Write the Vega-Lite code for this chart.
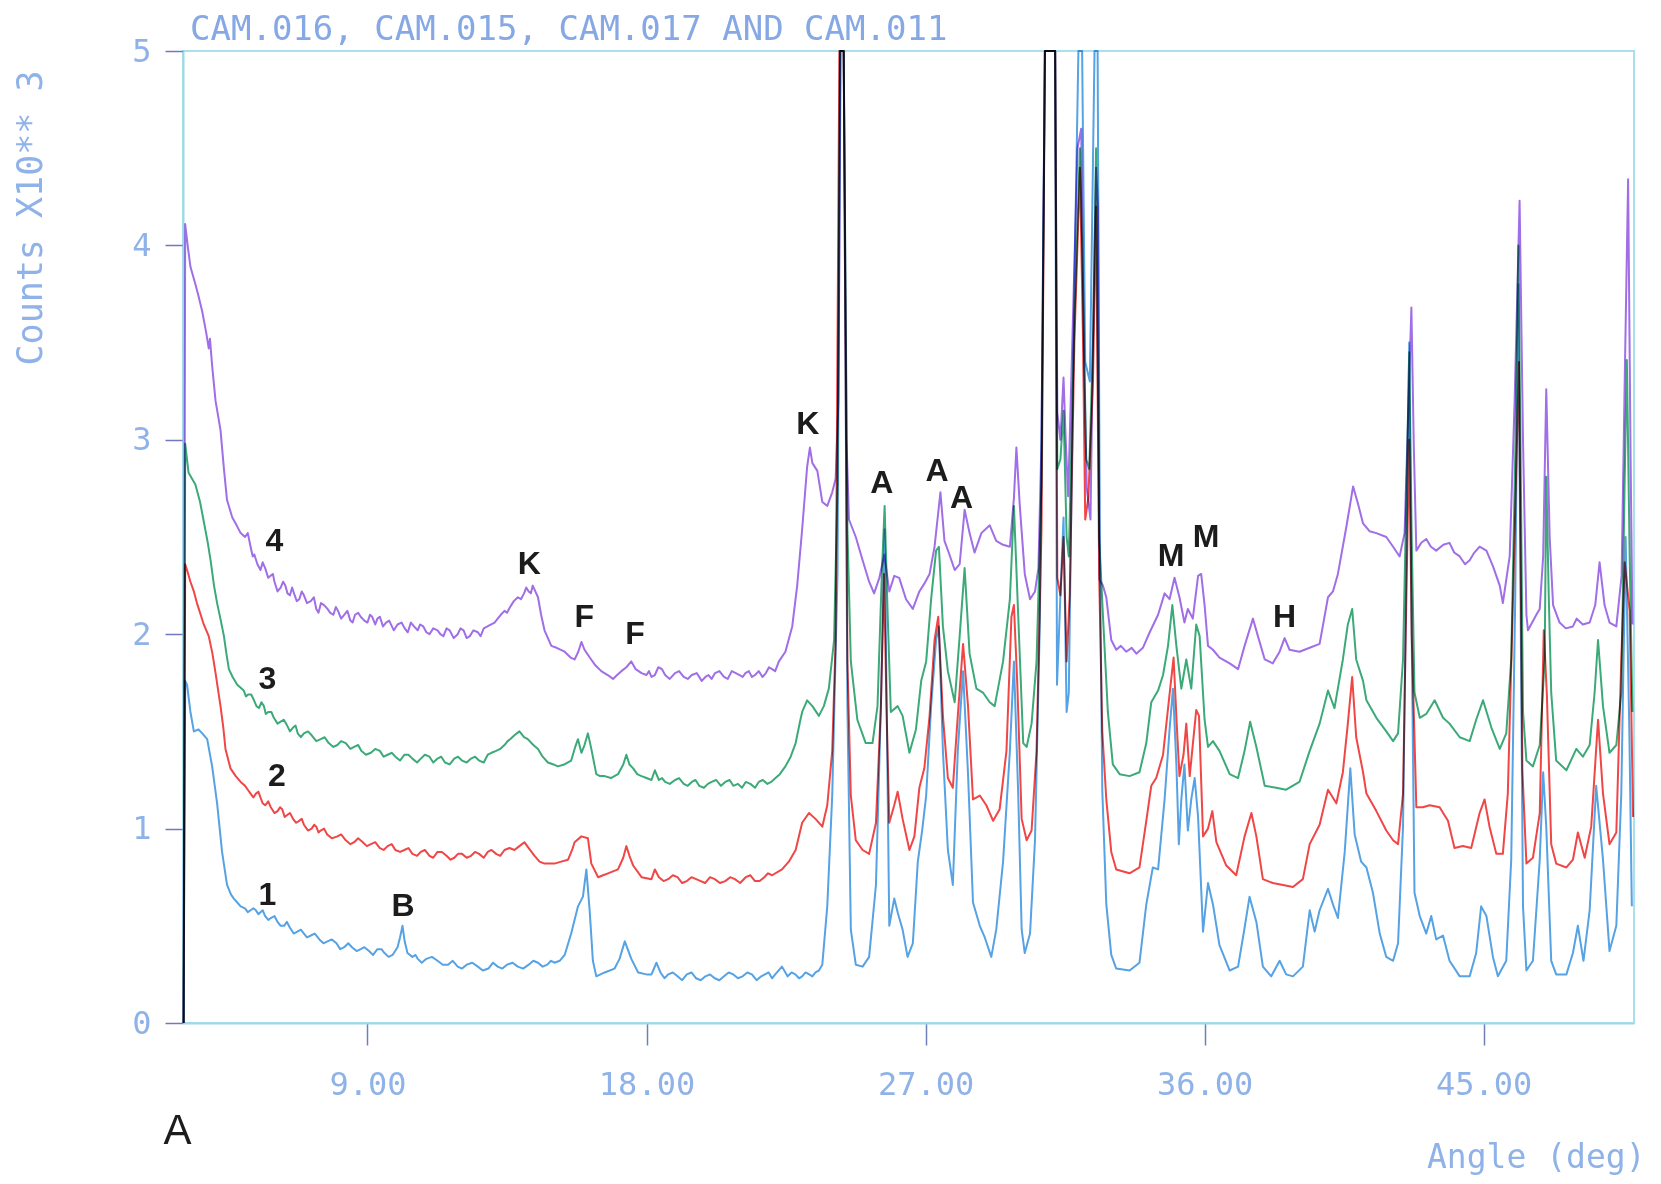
{
"$schema": "https://vega.github.io/schema/vega-lite/v6.json",
"width": 1451, "height": 972,
"autosize": "none",
"padding": {"left": 183, "top": 51, "right": 27, "bottom": 161},
"background": "white",
"title": {"text": "CAM.016, CAM.015, CAM.017 AND CAM.011", "anchor": "start", "frame": "group", "font": "DejaVu Sans Mono", "fontSize": 34, "fontWeight": "normal", "color": "#86a8e4", "offset": -12, "dx": 7},
"config": {"view": {"stroke": "#a9e0ec", "strokeWidth": 2}, "axis": {"grid": false}},
"datasets": {
"traces": [
{"scan":"4","angle":3.07,"counts":0},{"scan":"4","angle":3.12,"counts":4.11},{"scan":"4","angle":3.2,"counts":4.0},{"scan":"4","angle":3.29,"counts":3.89},{"scan":"4","angle":3.45,"counts":3.8},{"scan":"4","angle":3.55,"counts":3.74},{"scan":"4","angle":3.67,"counts":3.66},{"scan":"4","angle":3.8,"counts":3.55},{"scan":"4","angle":3.88,"counts":3.47},{"scan":"4","angle":3.92,"counts":3.52},{"scan":"4","angle":3.99,"counts":3.38},{"scan":"4","angle":4.1,"counts":3.2},{"scan":"4","angle":4.26,"counts":3.05},{"scan":"4","angle":4.37,"counts":2.85},{"scan":"4","angle":4.47,"counts":2.69},{"scan":"4","angle":4.64,"counts":2.6},{"scan":"4","angle":4.78,"counts":2.56},{"scan":"4","angle":4.91,"counts":2.52},{"scan":"4","angle":5.05,"counts":2.5},{"scan":"4","angle":5.23,"counts":2.45},{"scan":"4","angle":5.35,"counts":2.41},{"scan":"4","angle":5.45,"counts":2.36},{"scan":"4","angle":5.55,"counts":2.33},{"scan":"4","angle":5.7,"counts":2.34},{"scan":"4","angle":5.87,"counts":2.3},{"scan":"4","angle":6.0,"counts":2.27},{"scan":"4","angle":6.2,"counts":2.24},{"scan":"4","angle":6.35,"counts":2.25},{"scan":"4","angle":6.5,"counts":2.2},{"scan":"4","angle":6.63,"counts":2.21},{"scan":"4","angle":6.8,"counts":2.18},{"scan":"4","angle":6.95,"counts":2.2},{"scan":"4","angle":7.17,"counts":2.17},{"scan":"4","angle":7.35,"counts":2.13},{"scan":"4","angle":7.5,"counts":2.16},{"scan":"4","angle":7.71,"counts":2.13},{"scan":"4","angle":7.9,"counts":2.1},{"scan":"4","angle":8.05,"counts":2.12},{"scan":"4","angle":8.25,"counts":2.1},{"scan":"4","angle":8.45,"counts":2.07},{"scan":"4","angle":8.6,"counts":2.1},{"scan":"4","angle":8.78,"counts":2.09},{"scan":"4","angle":9.0,"counts":2.06},{"scan":"4","angle":9.15,"counts":2.09},{"scan":"4","angle":9.32,"counts":2.08},{"scan":"4","angle":9.5,"counts":2.04},{"scan":"4","angle":9.7,"counts":2.07},{"scan":"4","angle":9.97,"counts":2.05},{"scan":"4","angle":10.2,"counts":2.03},{"scan":"4","angle":10.4,"counts":2.06},{"scan":"4","angle":10.62,"counts":2.02},{"scan":"4","angle":10.8,"counts":2.04},{"scan":"4","angle":11.0,"counts":2.0},{"scan":"4","angle":11.26,"counts":2.02},{"scan":"4","angle":11.45,"counts":1.99},{"scan":"4","angle":11.65,"counts":2.02},{"scan":"4","angle":11.91,"counts":2.0},{"scan":"4","angle":12.1,"counts":2.02},{"scan":"4","angle":12.3,"counts":1.99},{"scan":"4","angle":12.56,"counts":2.01},{"scan":"4","angle":12.75,"counts":2.03},{"scan":"4","angle":12.99,"counts":2.05},{"scan":"4","angle":13.2,"counts":2.08},{"scan":"4","angle":13.42,"counts":2.12},{"scan":"4","angle":13.6,"counts":2.14},{"scan":"4","angle":13.85,"counts":2.19},{"scan":"4","angle":14.05,"counts":2.21},{"scan":"4","angle":14.2,"counts":2.22},{"scan":"4","angle":14.33,"counts":2.25},{"scan":"4","angle":14.5,"counts":2.19},{"scan":"4","angle":14.6,"counts":2.1},{"scan":"4","angle":14.71,"counts":2.02},{"scan":"4","angle":14.93,"counts":1.94},{"scan":"4","angle":15.1,"counts":1.93},{"scan":"4","angle":15.36,"counts":1.91},{"scan":"4","angle":15.55,"counts":1.88},{"scan":"4","angle":15.68,"counts":1.87},{"scan":"4","angle":15.8,"counts":1.91},{"scan":"4","angle":15.9,"counts":1.96},{"scan":"4","angle":16.0,"counts":1.92},{"scan":"4","angle":16.17,"counts":1.88},{"scan":"4","angle":16.35,"counts":1.84},{"scan":"4","angle":16.54,"counts":1.81},{"scan":"4","angle":16.75,"counts":1.79},{"scan":"4","angle":16.92,"counts":1.77},{"scan":"4","angle":17.05,"counts":1.79},{"scan":"4","angle":17.19,"counts":1.81},{"scan":"4","angle":17.35,"counts":1.83},{"scan":"4","angle":17.51,"counts":1.86},{"scan":"4","angle":17.65,"counts":1.82},{"scan":"4","angle":17.84,"counts":1.8},{"scan":"4","angle":18.0,"counts":1.79},{"scan":"4","angle":18.16,"counts":1.78},{"scan":"4","angle":18.38,"counts":1.83},{"scan":"4","angle":18.6,"counts":1.79},{"scan":"4","angle":18.92,"counts":1.8},{"scan":"4","angle":19.2,"counts":1.78},{"scan":"4","angle":19.46,"counts":1.79},{"scan":"4","angle":19.78,"counts":1.76},{"scan":"4","angle":20.0,"counts":1.79},{"scan":"4","angle":20.21,"counts":1.8},{"scan":"4","angle":20.5,"counts":1.78},{"scan":"4","angle":20.75,"counts":1.81},{"scan":"4","angle":21.0,"counts":1.79},{"scan":"4","angle":21.19,"counts":1.8},{"scan":"4","angle":21.4,"counts":1.78},{"scan":"4","angle":21.62,"counts":1.81},{"scan":"4","angle":21.85,"counts":1.8},{"scan":"4","angle":22.05,"counts":1.82},{"scan":"4","angle":22.27,"counts":1.86},{"scan":"4","angle":22.48,"counts":1.91},{"scan":"4","angle":22.7,"counts":2.04},{"scan":"4","angle":22.86,"counts":2.25},{"scan":"4","angle":23.02,"counts":2.54},{"scan":"4","angle":23.18,"counts":2.86},{"scan":"4","angle":23.27,"counts":2.96},{"scan":"4","angle":23.35,"counts":2.88},{"scan":"4","angle":23.51,"counts":2.84},{"scan":"4","angle":23.67,"counts":2.68},{"scan":"4","angle":23.83,"counts":2.66},{"scan":"4","angle":23.99,"counts":2.73},{"scan":"4","angle":24.1,"counts":2.8},{"scan":"4","angle":24.19,"counts":3.2},{"scan":"4","angle":24.26,"counts":5.0},{"scan":"4","angle":24.36,"counts":5.0},{"scan":"4","angle":24.45,"counts":3.0},{"scan":"4","angle":24.53,"counts":2.59},{"scan":"4","angle":24.75,"counts":2.5},{"scan":"4","angle":24.97,"counts":2.38},{"scan":"4","angle":25.18,"counts":2.27},{"scan":"4","angle":25.34,"counts":2.21},{"scan":"4","angle":25.51,"counts":2.29},{"scan":"4","angle":25.67,"counts":2.41},{"scan":"4","angle":25.83,"counts":2.22},{"scan":"4","angle":25.99,"counts":2.3},{"scan":"4","angle":26.15,"counts":2.29},{"scan":"4","angle":26.37,"counts":2.18},{"scan":"4","angle":26.59,"counts":2.13},{"scan":"4","angle":26.8,"counts":2.22},{"scan":"4","angle":26.96,"counts":2.26},{"scan":"4","angle":27.13,"counts":2.31},{"scan":"4","angle":27.29,"counts":2.45},{"scan":"4","angle":27.48,"counts":2.73},{"scan":"4","angle":27.61,"counts":2.48},{"scan":"4","angle":27.77,"counts":2.41},{"scan":"4","angle":27.94,"counts":2.33},{"scan":"4","angle":28.1,"counts":2.36},{"scan":"4","angle":28.26,"counts":2.64},{"scan":"4","angle":28.42,"counts":2.52},{"scan":"4","angle":28.58,"counts":2.42},{"scan":"4","angle":28.8,"counts":2.52},{"scan":"4","angle":29.07,"counts":2.56},{"scan":"4","angle":29.28,"counts":2.48},{"scan":"4","angle":29.5,"counts":2.46},{"scan":"4","angle":29.72,"counts":2.45},{"scan":"4","angle":29.85,"counts":2.7},{"scan":"4","angle":29.93,"counts":2.96},{"scan":"4","angle":30.04,"counts":2.66},{"scan":"4","angle":30.2,"counts":2.31},{"scan":"4","angle":30.37,"counts":2.18},{"scan":"4","angle":30.53,"counts":2.22},{"scan":"4","angle":30.64,"counts":2.34},{"scan":"4","angle":30.74,"counts":3.0},{"scan":"4","angle":30.85,"counts":5.0},{"scan":"4","angle":31.18,"counts":5.0},{"scan":"4","angle":31.25,"counts":3.14},{"scan":"4","angle":31.35,"counts":3.0},{"scan":"4","angle":31.45,"counts":3.32},{"scan":"4","angle":31.52,"counts":3.0},{"scan":"4","angle":31.6,"counts":2.71},{"scan":"4","angle":31.75,"counts":3.6},{"scan":"4","angle":31.9,"counts":4.5},{"scan":"4","angle":32.02,"counts":4.6},{"scan":"4","angle":32.1,"counts":3.5},{"scan":"4","angle":32.2,"counts":2.75},{"scan":"4","angle":32.32,"counts":2.59},{"scan":"4","angle":32.4,"counts":3.5},{"scan":"4","angle":32.5,"counts":4.4},{"scan":"4","angle":32.56,"counts":4.2},{"scan":"4","angle":32.61,"counts":2.28},{"scan":"4","angle":32.72,"counts":2.25},{"scan":"4","angle":32.83,"counts":2.19},{"scan":"4","angle":32.99,"counts":1.97},{"scan":"4","angle":33.15,"counts":1.92},{"scan":"4","angle":33.3,"counts":1.94},{"scan":"4","angle":33.47,"counts":1.91},{"scan":"4","angle":33.65,"counts":1.93},{"scan":"4","angle":33.8,"counts":1.9},{"scan":"4","angle":34.01,"counts":1.93},{"scan":"4","angle":34.23,"counts":2.01},{"scan":"4","angle":34.5,"counts":2.1},{"scan":"4","angle":34.71,"counts":2.21},{"scan":"4","angle":34.87,"counts":2.18},{"scan":"4","angle":35.03,"counts":2.29},{"scan":"4","angle":35.19,"counts":2.19},{"scan":"4","angle":35.35,"counts":2.06},{"scan":"4","angle":35.46,"counts":2.13},{"scan":"4","angle":35.62,"counts":2.08},{"scan":"4","angle":35.79,"counts":2.3},{"scan":"4","angle":35.89,"counts":2.31},{"scan":"4","angle":36.0,"counts":2.15},{"scan":"4","angle":36.11,"counts":1.94},{"scan":"4","angle":36.27,"counts":1.92},{"scan":"4","angle":36.48,"counts":1.88},{"scan":"4","angle":36.81,"counts":1.85},{"scan":"4","angle":37.08,"counts":1.82},{"scan":"4","angle":37.29,"counts":1.94},{"scan":"4","angle":37.56,"counts":2.08},{"scan":"4","angle":37.72,"counts":1.99},{"scan":"4","angle":37.94,"counts":1.87},{"scan":"4","angle":38.2,"counts":1.85},{"scan":"4","angle":38.42,"counts":1.91},{"scan":"4","angle":38.58,"counts":1.98},{"scan":"4","angle":38.74,"counts":1.92},{"scan":"4","angle":39.06,"counts":1.91},{"scan":"4","angle":39.39,"counts":1.93},{"scan":"4","angle":39.71,"counts":1.95},{"scan":"4","angle":39.98,"counts":2.19},{"scan":"4","angle":40.14,"counts":2.22},{"scan":"4","angle":40.3,"counts":2.31},{"scan":"4","angle":40.57,"counts":2.55},{"scan":"4","angle":40.79,"counts":2.76},{"scan":"4","angle":40.95,"counts":2.67},{"scan":"4","angle":41.11,"counts":2.57},{"scan":"4","angle":41.32,"counts":2.53},{"scan":"4","angle":41.54,"counts":2.52},{"scan":"4","angle":41.86,"counts":2.5},{"scan":"4","angle":42.08,"counts":2.45},{"scan":"4","angle":42.29,"counts":2.4},{"scan":"4","angle":42.45,"counts":2.52},{"scan":"4","angle":42.58,"counts":3.2},{"scan":"4","angle":42.67,"counts":3.68},{"scan":"4","angle":42.75,"counts":2.95},{"scan":"4","angle":42.83,"counts":2.43},{"scan":"4","angle":42.99,"counts":2.47},{"scan":"4","angle":43.15,"counts":2.49},{"scan":"4","angle":43.3,"counts":2.45},{"scan":"4","angle":43.47,"counts":2.43},{"scan":"4","angle":43.7,"counts":2.46},{"scan":"4","angle":43.9,"counts":2.47},{"scan":"4","angle":44.05,"counts":2.42},{"scan":"4","angle":44.23,"counts":2.4},{"scan":"4","angle":44.4,"counts":2.36},{"scan":"4","angle":44.55,"counts":2.38},{"scan":"4","angle":44.7,"counts":2.42},{"scan":"4","angle":44.87,"counts":2.45},{"scan":"4","angle":45.09,"counts":2.43},{"scan":"4","angle":45.3,"counts":2.35},{"scan":"4","angle":45.52,"counts":2.25},{"scan":"4","angle":45.62,"counts":2.16},{"scan":"4","angle":45.84,"counts":2.4},{"scan":"4","angle":46.0,"counts":3.2},{"scan":"4","angle":46.16,"counts":4.23},{"scan":"4","angle":46.27,"counts":3.0},{"scan":"4","angle":46.38,"counts":2.1},{"scan":"4","angle":46.43,"counts":2.02},{"scan":"4","angle":46.7,"counts":2.1},{"scan":"4","angle":46.81,"counts":2.13},{"scan":"4","angle":46.92,"counts":2.4},{"scan":"4","angle":47.02,"counts":3.26},{"scan":"4","angle":47.13,"counts":2.5},{"scan":"4","angle":47.24,"counts":2.15},{"scan":"4","angle":47.45,"counts":2.06},{"scan":"4","angle":47.65,"counts":2.03},{"scan":"4","angle":47.88,"counts":2.04},{"scan":"4","angle":48.0,"counts":2.08},{"scan":"4","angle":48.2,"counts":2.05},{"scan":"4","angle":48.42,"counts":2.06},{"scan":"4","angle":48.6,"counts":2.15},{"scan":"4","angle":48.74,"counts":2.37},{"scan":"4","angle":48.9,"counts":2.15},{"scan":"4","angle":49.06,"counts":2.06},{"scan":"4","angle":49.28,"counts":2.04},{"scan":"4","angle":49.45,"counts":2.3},{"scan":"4","angle":49.55,"counts":3.3},{"scan":"4","angle":49.66,"counts":4.34},{"scan":"4","angle":49.74,"counts":2.9},{"scan":"4","angle":49.8,"counts":2.05},
{"scan":"4","angle":5.14,"counts":2.52},{"scan":"4","angle":5.3,"counts":2.4},{"scan":"4","angle":5.62,"counts":2.37},{"scan":"4","angle":5.8,"counts":2.29},{"scan":"4","angle":5.95,"counts":2.31},{"scan":"4","angle":6.1,"counts":2.22},{"scan":"4","angle":6.28,"counts":2.27},{"scan":"4","angle":6.42,"counts":2.21},{"scan":"4","angle":6.57,"counts":2.24},{"scan":"4","angle":6.72,"counts":2.17},{"scan":"4","angle":6.88,"counts":2.22},{"scan":"4","angle":7.05,"counts":2.16},{"scan":"4","angle":7.27,"counts":2.19},{"scan":"4","angle":7.42,"counts":2.11},{"scan":"4","angle":7.6,"counts":2.15},{"scan":"4","angle":7.8,"counts":2.11},{"scan":"4","angle":7.98,"counts":2.14},{"scan":"4","angle":8.15,"counts":2.08},{"scan":"4","angle":8.35,"counts":2.12},{"scan":"4","angle":8.52,"counts":2.06},{"scan":"4","angle":8.7,"counts":2.11},{"scan":"4","angle":8.9,"counts":2.07},{"scan":"4","angle":9.08,"counts":2.1},{"scan":"4","angle":9.25,"counts":2.05},{"scan":"4","angle":9.4,"counts":2.09},{"scan":"4","angle":9.6,"counts":2.06},{"scan":"4","angle":9.85,"counts":2.02},{"scan":"4","angle":10.1,"counts":2.06},{"scan":"4","angle":10.3,"counts":2.01},{"scan":"4","angle":10.5,"counts":2.04},{"scan":"4","angle":10.7,"counts":2.05},{"scan":"4","angle":10.9,"counts":2.01},{"scan":"4","angle":11.12,"counts":2.03},{"scan":"4","angle":11.35,"counts":2.0},{"scan":"4","angle":11.55,"counts":2.03},{"scan":"4","angle":11.78,"counts":1.98},{"scan":"4","angle":12.0,"counts":2.03},{"scan":"4","angle":12.2,"counts":1.98},{"scan":"4","angle":12.42,"counts":2.02},{"scan":"4","angle":12.65,"counts":1.99},{"scan":"4","angle":12.87,"counts":2.04},{"scan":"4","angle":13.1,"counts":2.06},{"scan":"4","angle":13.3,"counts":2.1},{"scan":"4","angle":13.5,"counts":2.11},{"scan":"4","angle":13.72,"counts":2.17},{"scan":"4","angle":13.95,"counts":2.18},{"scan":"4","angle":14.12,"counts":2.24},{"scan":"4","angle":14.27,"counts":2.21},{"scan":"4","angle":18.08,"counts":1.81},{"scan":"4","angle":18.27,"counts":1.79},{"scan":"4","angle":18.5,"counts":1.82},{"scan":"4","angle":18.75,"counts":1.77},{"scan":"4","angle":19.05,"counts":1.81},{"scan":"4","angle":19.33,"counts":1.77},{"scan":"4","angle":19.62,"counts":1.8},{"scan":"4","angle":19.9,"counts":1.78},{"scan":"4","angle":20.1,"counts":1.77},{"scan":"4","angle":20.35,"counts":1.81},{"scan":"4","angle":20.62,"counts":1.77},{"scan":"4","angle":20.88,"counts":1.8},{"scan":"4","angle":21.1,"counts":1.78},{"scan":"4","angle":21.3,"counts":1.81},{"scan":"4","angle":21.5,"counts":1.79},{"scan":"4","angle":21.74,"counts":1.78},{"scan":"4","angle":21.95,"counts":1.83},{"scan":"4","angle":22.15,"counts":1.81},

{"scan":"3","angle":3.07,"counts":0},{"scan":"3","angle":3.12,"counts":2.98},{"scan":"3","angle":3.23,"counts":2.83},{"scan":"3","angle":3.45,"counts":2.77},{"scan":"3","angle":3.6,"counts":2.68},{"scan":"3","angle":3.72,"counts":2.58},{"scan":"3","angle":3.85,"counts":2.47},{"scan":"3","angle":3.94,"counts":2.38},{"scan":"3","angle":4.05,"counts":2.25},{"scan":"3","angle":4.15,"counts":2.16},{"scan":"3","angle":4.27,"counts":2.07},{"scan":"3","angle":4.37,"counts":1.99},{"scan":"3","angle":4.45,"counts":1.9},{"scan":"3","angle":4.53,"counts":1.82},{"scan":"3","angle":4.65,"counts":1.78},{"scan":"3","angle":4.8,"counts":1.74},{"scan":"3","angle":5.01,"counts":1.71},{"scan":"3","angle":5.15,"counts":1.69},{"scan":"3","angle":5.34,"counts":1.66},{"scan":"3","angle":5.5,"counts":1.62},{"scan":"3","angle":5.66,"counts":1.63},{"scan":"3","angle":5.8,"counts":1.6},{"scan":"3","angle":5.98,"counts":1.57},{"scan":"3","angle":6.2,"counts":1.55},{"scan":"3","angle":6.41,"counts":1.53},{"scan":"3","angle":6.6,"counts":1.52},{"scan":"3","angle":6.75,"counts":1.49},{"scan":"3","angle":6.95,"counts":1.49},{"scan":"3","angle":7.2,"counts":1.48},{"scan":"3","angle":7.49,"counts":1.46},{"scan":"3","angle":7.75,"counts":1.44},{"scan":"3","angle":8.03,"counts":1.43},{"scan":"3","angle":8.3,"counts":1.44},{"scan":"3","angle":8.57,"counts":1.42},{"scan":"3","angle":8.8,"counts":1.4},{"scan":"3","angle":9.11,"counts":1.39},{"scan":"3","angle":9.4,"counts":1.4},{"scan":"3","angle":9.65,"counts":1.38},{"scan":"3","angle":9.9,"counts":1.37},{"scan":"3","angle":10.19,"counts":1.38},{"scan":"3","angle":10.45,"counts":1.36},{"scan":"3","angle":10.72,"counts":1.36},{"scan":"3","angle":11.0,"counts":1.37},{"scan":"3","angle":11.26,"counts":1.36},{"scan":"3","angle":11.5,"counts":1.34},{"scan":"3","angle":11.8,"counts":1.36},{"scan":"3","angle":12.05,"counts":1.35},{"scan":"3","angle":12.34,"counts":1.36},{"scan":"3","angle":12.6,"counts":1.35},{"scan":"3","angle":12.88,"counts":1.38},{"scan":"3","angle":13.15,"counts":1.4},{"scan":"3","angle":13.42,"counts":1.43},{"scan":"3","angle":13.6,"counts":1.46},{"scan":"3","angle":13.74,"counts":1.48},{"scan":"3","angle":13.9,"counts":1.5},{"scan":"3","angle":14.05,"counts":1.47},{"scan":"3","angle":14.17,"counts":1.46},{"scan":"3","angle":14.35,"counts":1.43},{"scan":"3","angle":14.5,"counts":1.41},{"scan":"3","angle":14.65,"counts":1.37},{"scan":"3","angle":14.82,"counts":1.34},{"scan":"3","angle":15.0,"counts":1.33},{"scan":"3","angle":15.14,"counts":1.32},{"scan":"3","angle":15.35,"counts":1.33},{"scan":"3","angle":15.57,"counts":1.35},{"scan":"3","angle":15.7,"counts":1.42},{"scan":"3","angle":15.79,"counts":1.46},{"scan":"3","angle":15.9,"counts":1.39},{"scan":"3","angle":16.0,"counts":1.43},{"scan":"3","angle":16.11,"counts":1.49},{"scan":"3","angle":16.22,"counts":1.41},{"scan":"3","angle":16.38,"counts":1.28},{"scan":"3","angle":16.5,"counts":1.27},{"scan":"3","angle":16.65,"counts":1.27},{"scan":"3","angle":16.85,"counts":1.26},{"scan":"3","angle":17.08,"counts":1.28},{"scan":"3","angle":17.25,"counts":1.33},{"scan":"3","angle":17.35,"counts":1.38},{"scan":"3","angle":17.45,"counts":1.33},{"scan":"3","angle":17.57,"counts":1.31},{"scan":"3","angle":17.7,"counts":1.28},{"scan":"3","angle":17.84,"counts":1.27},{"scan":"3","angle":18.0,"counts":1.26},{"scan":"3","angle":18.16,"counts":1.25},{"scan":"3","angle":18.27,"counts":1.3},{"scan":"3","angle":18.4,"counts":1.25},{"scan":"3","angle":18.6,"counts":1.24},{"scan":"3","angle":18.92,"counts":1.25},{"scan":"3","angle":19.2,"counts":1.23},{"scan":"3","angle":19.46,"counts":1.24},{"scan":"3","angle":19.7,"counts":1.22},{"scan":"3","angle":19.98,"counts":1.23},{"scan":"3","angle":20.25,"counts":1.25},{"scan":"3","angle":20.54,"counts":1.24},{"scan":"3","angle":20.8,"counts":1.22},{"scan":"3","angle":21.08,"counts":1.21},{"scan":"3","angle":21.35,"counts":1.23},{"scan":"3","angle":21.62,"counts":1.24},{"scan":"3","angle":21.9,"counts":1.23},{"scan":"3","angle":22.16,"counts":1.26},{"scan":"3","angle":22.3,"counts":1.28},{"scan":"3","angle":22.48,"counts":1.32},{"scan":"3","angle":22.65,"counts":1.37},{"scan":"3","angle":22.81,"counts":1.44},{"scan":"3","angle":22.95,"counts":1.55},{"scan":"3","angle":23.02,"counts":1.6},{"scan":"3","angle":23.18,"counts":1.66},{"scan":"3","angle":23.35,"counts":1.63},{"scan":"3","angle":23.56,"counts":1.58},{"scan":"3","angle":23.72,"counts":1.63},{"scan":"3","angle":23.88,"counts":1.72},{"scan":"3","angle":24.05,"counts":1.97},{"scan":"3","angle":24.16,"counts":2.77},{"scan":"3","angle":24.24,"counts":5.0},{"scan":"3","angle":24.36,"counts":5.0},{"scan":"3","angle":24.48,"counts":2.54},{"scan":"3","angle":24.59,"counts":1.86},{"scan":"3","angle":24.8,"counts":1.56},{"scan":"3","angle":25.07,"counts":1.44},{"scan":"3","angle":25.29,"counts":1.44},{"scan":"3","angle":25.45,"counts":1.63},{"scan":"3","angle":25.59,"counts":2.31},{"scan":"3","angle":25.68,"counts":2.66},{"scan":"3","angle":25.78,"counts":2.09},{"scan":"3","angle":25.88,"counts":1.6},{"scan":"3","angle":26.1,"counts":1.63},{"scan":"3","angle":26.26,"counts":1.58},{"scan":"3","angle":26.48,"counts":1.39},{"scan":"3","angle":26.69,"counts":1.51},{"scan":"3","angle":26.86,"counts":1.76},{"scan":"3","angle":27.02,"counts":1.86},{"scan":"3","angle":27.18,"counts":2.18},{"scan":"3","angle":27.34,"counts":2.43},{"scan":"3","angle":27.43,"counts":2.45},{"scan":"3","angle":27.56,"counts":2.04},{"scan":"3","angle":27.72,"counts":1.81},{"scan":"3","angle":27.94,"counts":1.65},{"scan":"3","angle":28.1,"counts":1.99},{"scan":"3","angle":28.26,"counts":2.34},{"scan":"3","angle":28.42,"counts":1.9},{"scan":"3","angle":28.64,"counts":1.72},{"scan":"3","angle":28.85,"counts":1.7},{"scan":"3","angle":29.07,"counts":1.65},{"scan":"3","angle":29.23,"counts":1.63},{"scan":"3","angle":29.5,"counts":1.86},{"scan":"3","angle":29.72,"counts":2.18},{"scan":"3","angle":29.85,"counts":2.66},{"scan":"3","angle":29.99,"counts":2.09},{"scan":"3","angle":30.15,"counts":1.44},{"scan":"3","angle":30.26,"counts":1.42},{"scan":"3","angle":30.42,"counts":1.54},{"scan":"3","angle":30.58,"counts":1.86},{"scan":"3","angle":30.74,"counts":2.77},{"scan":"3","angle":30.85,"counts":5.0},{"scan":"3","angle":31.18,"counts":5.0},{"scan":"3","angle":31.25,"counts":2.85},{"scan":"3","angle":31.35,"counts":2.9},{"scan":"3","angle":31.45,"counts":3.15},{"scan":"3","angle":31.55,"counts":2.5},{"scan":"3","angle":31.62,"counts":2.4},{"scan":"3","angle":31.8,"counts":3.6},{"scan":"3","angle":31.98,"counts":4.5},{"scan":"3","angle":32.08,"counts":3.8},{"scan":"3","angle":32.18,"counts":2.9},{"scan":"3","angle":32.28,"counts":2.85},{"scan":"3","angle":32.4,"counts":3.5},{"scan":"3","angle":32.5,"counts":4.5},{"scan":"3","angle":32.6,"counts":2.5},{"scan":"3","angle":32.72,"counts":2.1},{"scan":"3","angle":32.88,"counts":1.6},{"scan":"3","angle":33.04,"counts":1.33},{"scan":"3","angle":33.26,"counts":1.28},{"scan":"3","angle":33.58,"counts":1.27},{"scan":"3","angle":33.9,"counts":1.29},{"scan":"3","angle":34.12,"counts":1.44},{"scan":"3","angle":34.28,"counts":1.65},{"scan":"3","angle":34.5,"counts":1.71},{"scan":"3","angle":34.66,"counts":1.79},{"scan":"3","angle":34.82,"counts":1.94},{"scan":"3","angle":34.96,"counts":2.15},{"scan":"3","angle":35.09,"counts":1.94},{"scan":"3","angle":35.25,"counts":1.72},{"scan":"3","angle":35.41,"counts":1.87},{"scan":"3","angle":35.57,"counts":1.72},{"scan":"3","angle":35.73,"counts":2.05},{"scan":"3","angle":35.84,"counts":1.99},{"scan":"3","angle":36.0,"counts":1.56},{"scan":"3","angle":36.11,"counts":1.42},{"scan":"3","angle":36.27,"counts":1.45},{"scan":"3","angle":36.48,"counts":1.4},{"scan":"3","angle":36.81,"counts":1.28},{"scan":"3","angle":37.08,"counts":1.26},{"scan":"3","angle":37.29,"counts":1.4},{"scan":"3","angle":37.47,"counts":1.55},{"scan":"3","angle":37.67,"counts":1.42},{"scan":"3","angle":37.94,"counts":1.22},{"scan":"3","angle":38.31,"counts":1.21},{"scan":"3","angle":38.63,"counts":1.2},{"scan":"3","angle":39.06,"counts":1.24},{"scan":"3","angle":39.39,"counts":1.4},{"scan":"3","angle":39.71,"counts":1.54},{"scan":"3","angle":39.98,"counts":1.71},{"scan":"3","angle":40.19,"counts":1.62},{"scan":"3","angle":40.46,"counts":1.87},{"scan":"3","angle":40.62,"counts":2.05},{"scan":"3","angle":40.76,"counts":2.13},{"scan":"3","angle":40.89,"counts":1.87},{"scan":"3","angle":41.11,"counts":1.76},{"scan":"3","angle":41.22,"counts":1.66},{"scan":"3","angle":41.54,"counts":1.57},{"scan":"3","angle":41.86,"counts":1.5},{"scan":"3","angle":42.08,"counts":1.45},{"scan":"3","angle":42.24,"counts":1.49},{"scan":"3","angle":42.4,"counts":1.87},{"scan":"3","angle":42.52,"counts":2.8},{"scan":"3","angle":42.6,"counts":3.45},{"scan":"3","angle":42.68,"counts":2.5},{"scan":"3","angle":42.77,"counts":1.7},{"scan":"3","angle":42.94,"counts":1.57},{"scan":"3","angle":43.15,"counts":1.59},{"scan":"3","angle":43.42,"counts":1.66},{"scan":"3","angle":43.69,"counts":1.57},{"scan":"3","angle":43.9,"counts":1.54},{"scan":"3","angle":44.23,"counts":1.47},{"scan":"3","angle":44.55,"counts":1.45},{"scan":"3","angle":44.76,"counts":1.56},{"scan":"3","angle":44.98,"counts":1.66},{"scan":"3","angle":45.25,"counts":1.52},{"scan":"3","angle":45.52,"counts":1.41},{"scan":"3","angle":45.73,"counts":1.49},{"scan":"3","angle":45.89,"counts":1.87},{"scan":"3","angle":46.03,"counts":3.0},{"scan":"3","angle":46.12,"counts":4.0},{"scan":"3","angle":46.2,"counts":2.8},{"scan":"3","angle":46.27,"counts":1.6},{"scan":"3","angle":46.38,"counts":1.35},{"scan":"3","angle":46.59,"counts":1.32},{"scan":"3","angle":46.81,"counts":1.43},{"scan":"3","angle":46.97,"counts":1.87},{"scan":"3","angle":47.02,"counts":2.81},{"scan":"3","angle":47.1,"counts":2.2},{"scan":"3","angle":47.18,"counts":1.7},{"scan":"3","angle":47.34,"counts":1.35},{"scan":"3","angle":47.67,"counts":1.3},{"scan":"3","angle":47.99,"counts":1.41},{"scan":"3","angle":48.2,"counts":1.37},{"scan":"3","angle":48.42,"counts":1.43},{"scan":"3","angle":48.58,"counts":1.7},{"scan":"3","angle":48.69,"counts":1.97},{"scan":"3","angle":48.85,"counts":1.63},{"scan":"3","angle":49.06,"counts":1.39},{"scan":"3","angle":49.28,"counts":1.43},{"scan":"3","angle":49.44,"counts":1.7},{"scan":"3","angle":49.55,"counts":2.8},{"scan":"3","angle":49.62,"counts":3.41},{"scan":"3","angle":49.71,"counts":2.4},{"scan":"3","angle":49.8,"counts":1.6},
{"scan":"3","angle":5.08,"counts":1.68},{"scan":"3","angle":5.25,"counts":1.69},{"scan":"3","angle":5.42,"counts":1.63},{"scan":"3","angle":5.58,"counts":1.65},{"scan":"3","angle":5.72,"counts":1.59},{"scan":"3","angle":5.9,"counts":1.6},{"scan":"3","angle":6.1,"counts":1.54},{"scan":"3","angle":6.3,"counts":1.56},{"scan":"3","angle":6.5,"counts":1.5},{"scan":"3","angle":6.68,"counts":1.53},{"scan":"3","angle":6.85,"counts":1.47},{"scan":"3","angle":7.08,"counts":1.5},{"scan":"3","angle":7.35,"counts":1.45},{"scan":"3","angle":7.62,"counts":1.47},{"scan":"3","angle":7.9,"counts":1.42},{"scan":"3","angle":8.15,"counts":1.45},{"scan":"3","angle":8.45,"counts":1.41},{"scan":"3","angle":8.7,"counts":1.43},{"scan":"3","angle":8.95,"counts":1.38},{"scan":"3","angle":9.25,"counts":1.41},{"scan":"3","angle":9.52,"counts":1.37},{"scan":"3","angle":9.78,"counts":1.39},{"scan":"3","angle":10.05,"counts":1.35},{"scan":"3","angle":10.32,"counts":1.38},{"scan":"3","angle":10.6,"counts":1.34},{"scan":"3","angle":10.85,"counts":1.38},{"scan":"3","angle":11.12,"counts":1.34},{"scan":"3","angle":11.38,"counts":1.37},{"scan":"3","angle":11.65,"counts":1.33},{"scan":"3","angle":11.92,"counts":1.37},{"scan":"3","angle":12.2,"counts":1.34},{"scan":"3","angle":12.47,"counts":1.37},{"scan":"3","angle":12.75,"counts":1.34},{"scan":"3","angle":13.0,"counts":1.39},{"scan":"3","angle":13.28,"counts":1.41},{"scan":"3","angle":13.52,"counts":1.45},{"scan":"3","angle":18.5,"counts":1.26},{"scan":"3","angle":18.75,"counts":1.23},{"scan":"3","angle":19.05,"counts":1.26},{"scan":"3","angle":19.33,"counts":1.22},{"scan":"3","angle":19.58,"counts":1.25},{"scan":"3","angle":19.85,"counts":1.21},{"scan":"3","angle":20.1,"counts":1.24},{"scan":"3","angle":20.4,"counts":1.22},{"scan":"3","angle":20.68,"counts":1.25},{"scan":"3","angle":20.95,"counts":1.23},{"scan":"3","angle":21.2,"counts":1.24},{"scan":"3","angle":21.5,"counts":1.21},{"scan":"3","angle":21.75,"counts":1.25},{"scan":"3","angle":22.02,"counts":1.24},

{"scan":"2","angle":3.07,"counts":0},{"scan":"2","angle":3.12,"counts":2.36},{"scan":"2","angle":3.18,"counts":2.33},{"scan":"2","angle":3.29,"counts":2.27},{"scan":"2","angle":3.4,"counts":2.22},{"scan":"2","angle":3.5,"counts":2.16},{"scan":"2","angle":3.62,"counts":2.1},{"scan":"2","angle":3.72,"counts":2.05},{"scan":"2","angle":3.88,"counts":1.99},{"scan":"2","angle":4.0,"counts":1.9},{"scan":"2","angle":4.1,"counts":1.8},{"scan":"2","angle":4.26,"counts":1.63},{"scan":"2","angle":4.35,"counts":1.52},{"scan":"2","angle":4.42,"counts":1.41},{"scan":"2","angle":4.58,"counts":1.31},{"scan":"2","angle":4.75,"counts":1.27},{"scan":"2","angle":4.91,"counts":1.24},{"scan":"2","angle":5.05,"counts":1.22},{"scan":"2","angle":5.23,"counts":1.18},{"scan":"2","angle":5.4,"counts":1.18},{"scan":"2","angle":5.55,"counts":1.16},{"scan":"2","angle":5.7,"counts":1.12},{"scan":"2","angle":5.88,"counts":1.11},{"scan":"2","angle":6.1,"counts":1.09},{"scan":"2","angle":6.25,"counts":1.1},{"scan":"2","angle":6.41,"counts":1.07},{"scan":"2","angle":6.6,"counts":1.05},{"scan":"2","angle":6.8,"counts":1.04},{"scan":"2","angle":6.95,"counts":1.02},{"scan":"2","angle":7.2,"counts":1.0},{"scan":"2","angle":7.35,"counts":1.01},{"scan":"2","angle":7.49,"counts":0.99},{"scan":"2","angle":7.7,"counts":0.97},{"scan":"2","angle":8.03,"counts":0.96},{"scan":"2","angle":8.3,"counts":0.94},{"scan":"2","angle":8.57,"counts":0.93},{"scan":"2","angle":8.85,"counts":0.93},{"scan":"2","angle":9.11,"counts":0.92},{"scan":"2","angle":9.4,"counts":0.9},{"scan":"2","angle":9.65,"counts":0.91},{"scan":"2","angle":9.9,"counts":0.89},{"scan":"2","angle":10.19,"counts":0.89},{"scan":"2","angle":10.45,"counts":0.87},{"scan":"2","angle":10.72,"counts":0.88},{"scan":"2","angle":11.0,"counts":0.86},{"scan":"2","angle":11.26,"counts":0.88},{"scan":"2","angle":11.55,"counts":0.86},{"scan":"2","angle":11.8,"counts":0.85},{"scan":"2","angle":12.05,"counts":0.87},{"scan":"2","angle":12.34,"counts":0.86},{"scan":"2","angle":12.6,"counts":0.87},{"scan":"2","angle":12.88,"counts":0.88},{"scan":"2","angle":13.15,"counts":0.87},{"scan":"2","angle":13.42,"counts":0.89},{"scan":"2","angle":13.74,"counts":0.89},{"scan":"2","angle":13.9,"counts":0.91},{"scan":"2","angle":14.06,"counts":0.93},{"scan":"2","angle":14.2,"counts":0.9},{"scan":"2","angle":14.39,"counts":0.86},{"scan":"2","angle":14.55,"counts":0.83},{"scan":"2","angle":14.71,"counts":0.82},{"scan":"2","angle":15.03,"counts":0.82},{"scan":"2","angle":15.25,"counts":0.83},{"scan":"2","angle":15.47,"counts":0.84},{"scan":"2","angle":15.6,"counts":0.89},{"scan":"2","angle":15.68,"counts":0.93},{"scan":"2","angle":15.9,"counts":0.96},{"scan":"2","angle":16.11,"counts":0.95},{"scan":"2","angle":16.22,"counts":0.82},{"scan":"2","angle":16.44,"counts":0.75},{"scan":"2","angle":16.6,"counts":0.76},{"scan":"2","angle":16.76,"counts":0.77},{"scan":"2","angle":17.08,"counts":0.79},{"scan":"2","angle":17.25,"counts":0.85},{"scan":"2","angle":17.35,"counts":0.91},{"scan":"2","angle":17.45,"counts":0.86},{"scan":"2","angle":17.57,"counts":0.81},{"scan":"2","angle":17.84,"counts":0.75},{"scan":"2","angle":18.16,"counts":0.74},{"scan":"2","angle":18.27,"counts":0.79},{"scan":"2","angle":18.4,"counts":0.75},{"scan":"2","angle":18.7,"counts":0.74},{"scan":"2","angle":19.0,"counts":0.75},{"scan":"2","angle":19.3,"counts":0.73},{"scan":"2","angle":19.6,"counts":0.74},{"scan":"2","angle":19.89,"counts":0.72},{"scan":"2","angle":20.2,"counts":0.74},{"scan":"2","angle":20.54,"counts":0.73},{"scan":"2","angle":20.85,"counts":0.74},{"scan":"2","angle":21.2,"counts":0.75},{"scan":"2","angle":21.5,"counts":0.73},{"scan":"2","angle":21.8,"counts":0.75},{"scan":"2","angle":22.05,"counts":0.76},{"scan":"2","angle":22.37,"counts":0.79},{"scan":"2","angle":22.59,"counts":0.83},{"scan":"2","angle":22.81,"counts":0.89},{"scan":"2","angle":23.02,"counts":1.03},{"scan":"2","angle":23.24,"counts":1.08},{"scan":"2","angle":23.45,"counts":1.05},{"scan":"2","angle":23.67,"counts":1.01},{"scan":"2","angle":23.83,"counts":1.12},{"scan":"2","angle":23.99,"counts":1.4},{"scan":"2","angle":24.1,"counts":1.97},{"scan":"2","angle":24.22,"counts":5.0},{"scan":"2","angle":24.36,"counts":5.0},{"scan":"2","angle":24.48,"counts":1.86},{"scan":"2","angle":24.59,"counts":1.17},{"scan":"2","angle":24.75,"counts":0.94},{"scan":"2","angle":24.97,"counts":0.89},{"scan":"2","angle":25.18,"counts":0.87},{"scan":"2","angle":25.4,"counts":1.03},{"scan":"2","angle":25.56,"counts":1.63},{"scan":"2","angle":25.66,"counts":2.31},{"scan":"2","angle":25.74,"counts":1.63},{"scan":"2","angle":25.83,"counts":1.03},{"scan":"2","angle":25.99,"counts":1.12},{"scan":"2","angle":26.1,"counts":1.19},{"scan":"2","angle":26.26,"counts":1.05},{"scan":"2","angle":26.48,"counts":0.89},{"scan":"2","angle":26.64,"counts":0.96},{"scan":"2","angle":26.8,"counts":1.21},{"scan":"2","angle":26.96,"counts":1.31},{"scan":"2","angle":27.13,"counts":1.58},{"scan":"2","angle":27.29,"counts":1.97},{"scan":"2","angle":27.41,"counts":2.09},{"scan":"2","angle":27.56,"counts":1.58},{"scan":"2","angle":27.72,"counts":1.26},{"scan":"2","angle":27.88,"counts":1.21},{"scan":"2","angle":28.04,"counts":1.58},{"scan":"2","angle":28.21,"counts":1.95},{"scan":"2","angle":28.37,"counts":1.63},{"scan":"2","angle":28.53,"counts":1.15},{"scan":"2","angle":28.75,"counts":1.17},{"scan":"2","angle":28.96,"counts":1.12},{"scan":"2","angle":29.18,"counts":1.04},{"scan":"2","angle":29.39,"counts":1.1},{"scan":"2","angle":29.61,"counts":1.4},{"scan":"2","angle":29.77,"counts":2.09},{"scan":"2","angle":29.85,"counts":2.15},{"scan":"2","angle":29.96,"counts":1.74},{"scan":"2","angle":30.1,"counts":1.05},{"scan":"2","angle":30.26,"counts":0.94},{"scan":"2","angle":30.42,"counts":0.99},{"scan":"2","angle":30.58,"counts":1.4},{"scan":"2","angle":30.74,"counts":2.54},{"scan":"2","angle":30.85,"counts":5.0},{"scan":"2","angle":31.18,"counts":5.0},{"scan":"2","angle":31.25,"counts":2.29},{"scan":"2","angle":31.35,"counts":2.2},{"scan":"2","angle":31.45,"counts":2.5},{"scan":"2","angle":31.55,"counts":1.86},{"scan":"2","angle":31.65,"counts":2.2},{"scan":"2","angle":31.8,"counts":3.5},{"scan":"2","angle":31.98,"counts":4.4},{"scan":"2","angle":32.08,"counts":3.5},{"scan":"2","angle":32.15,"counts":2.59},{"scan":"2","angle":32.25,"counts":2.7},{"scan":"2","angle":32.4,"counts":3.3},{"scan":"2","angle":32.5,"counts":4.2},{"scan":"2","angle":32.6,"counts":2.3},{"scan":"2","angle":32.7,"counts":1.5},{"scan":"2","angle":32.83,"counts":1.15},{"scan":"2","angle":32.99,"counts":0.88},{"scan":"2","angle":33.15,"counts":0.79},{"scan":"2","angle":33.58,"counts":0.77},{"scan":"2","angle":33.9,"counts":0.8},{"scan":"2","angle":34.12,"counts":1.04},{"scan":"2","angle":34.28,"counts":1.22},{"scan":"2","angle":34.44,"counts":1.26},{"scan":"2","angle":34.66,"counts":1.38},{"scan":"2","angle":34.87,"counts":1.69},{"scan":"2","angle":35.0,"counts":1.88},{"scan":"2","angle":35.11,"counts":1.51},{"scan":"2","angle":35.19,"counts":1.27},{"scan":"2","angle":35.32,"counts":1.38},{"scan":"2","angle":35.41,"counts":1.54},{"scan":"2","angle":35.52,"counts":1.27},{"scan":"2","angle":35.73,"counts":1.61},{"scan":"2","angle":35.82,"counts":1.58},{"scan":"2","angle":35.95,"counts":0.96},{"scan":"2","angle":36.11,"counts":1.0},{"scan":"2","angle":36.25,"counts":1.09},{"scan":"2","angle":36.38,"counts":0.93},{"scan":"2","angle":36.7,"counts":0.81},{"scan":"2","angle":37.02,"counts":0.76},{"scan":"2","angle":37.29,"counts":0.96},{"scan":"2","angle":37.51,"counts":1.08},{"scan":"2","angle":37.67,"counts":0.96},{"scan":"2","angle":37.88,"counts":0.74},{"scan":"2","angle":38.2,"counts":0.72},{"scan":"2","angle":38.53,"counts":0.71},{"scan":"2","angle":38.85,"counts":0.7},{"scan":"2","angle":39.17,"counts":0.74},{"scan":"2","angle":39.39,"counts":0.92},{"scan":"2","angle":39.71,"counts":1.02},{"scan":"2","angle":39.98,"counts":1.2},{"scan":"2","angle":40.25,"counts":1.13},{"scan":"2","angle":40.46,"counts":1.29},{"scan":"2","angle":40.62,"counts":1.54},{"scan":"2","angle":40.76,"counts":1.78},{"scan":"2","angle":40.89,"counts":1.47},{"scan":"2","angle":41.11,"counts":1.29},{"scan":"2","angle":41.22,"counts":1.18},{"scan":"2","angle":41.54,"counts":1.09},{"scan":"2","angle":41.86,"counts":0.99},{"scan":"2","angle":42.08,"counts":0.94},{"scan":"2","angle":42.24,"counts":0.92},{"scan":"2","angle":42.4,"counts":1.18},{"scan":"2","angle":42.52,"counts":2.3},{"scan":"2","angle":42.6,"counts":3.0},{"scan":"2","angle":42.68,"counts":2.0},{"scan":"2","angle":42.83,"counts":1.11},{"scan":"2","angle":43.04,"counts":1.11},{"scan":"2","angle":43.26,"counts":1.12},{"scan":"2","angle":43.58,"counts":1.11},{"scan":"2","angle":43.85,"counts":1.04},{"scan":"2","angle":44.06,"counts":0.9},{"scan":"2","angle":44.33,"counts":0.91},{"scan":"2","angle":44.6,"counts":0.9},{"scan":"2","angle":44.87,"counts":1.08},{"scan":"2","angle":45.03,"counts":1.15},{"scan":"2","angle":45.19,"counts":1.01},{"scan":"2","angle":45.41,"counts":0.87},{"scan":"2","angle":45.62,"counts":0.87},{"scan":"2","angle":45.78,"counts":1.18},{"scan":"2","angle":45.95,"counts":2.2},{"scan":"2","angle":46.14,"counts":3.4},{"scan":"2","angle":46.25,"counts":1.3},{"scan":"2","angle":46.38,"counts":0.82},{"scan":"2","angle":46.59,"counts":0.85},{"scan":"2","angle":46.81,"counts":1.08},{"scan":"2","angle":46.94,"counts":2.02},{"scan":"2","angle":47.04,"counts":1.69},{"scan":"2","angle":47.18,"counts":0.92},{"scan":"2","angle":47.34,"counts":0.82},{"scan":"2","angle":47.67,"counts":0.8},{"scan":"2","angle":47.88,"counts":0.84},{"scan":"2","angle":48.04,"counts":0.98},{"scan":"2","angle":48.26,"counts":0.85},{"scan":"2","angle":48.47,"counts":1.01},{"scan":"2","angle":48.69,"counts":1.56},{"scan":"2","angle":48.85,"counts":1.18},{"scan":"2","angle":49.06,"counts":0.92},{"scan":"2","angle":49.28,"counts":0.98},{"scan":"2","angle":49.44,"counts":1.87},{"scan":"2","angle":49.55,"counts":2.37},{"scan":"2","angle":49.71,"counts":2.12},{"scan":"2","angle":49.82,"counts":1.06},
{"scan":"2","angle":5.14,"counts":1.2},{"scan":"2","angle":5.32,"counts":1.16},{"scan":"2","angle":5.48,"counts":1.19},{"scan":"2","angle":5.62,"counts":1.13},{"scan":"2","angle":5.8,"counts":1.14},{"scan":"2","angle":6.0,"counts":1.08},{"scan":"2","angle":6.18,"counts":1.11},{"scan":"2","angle":6.33,"counts":1.06},{"scan":"2","angle":6.5,"counts":1.08},{"scan":"2","angle":6.7,"counts":1.03},{"scan":"2","angle":6.88,"counts":1.05},{"scan":"2","angle":7.08,"counts":0.99},{"scan":"2","angle":7.28,"counts":1.02},{"scan":"2","angle":7.42,"counts":0.98},{"scan":"2","angle":7.6,"counts":1.0},{"scan":"2","angle":7.85,"counts":0.95},{"scan":"2","angle":8.15,"counts":0.97},{"scan":"2","angle":8.45,"counts":0.92},{"scan":"2","angle":8.7,"counts":0.95},{"scan":"2","angle":8.98,"counts":0.91},{"scan":"2","angle":9.25,"counts":0.93},{"scan":"2","angle":9.52,"counts":0.89},{"scan":"2","angle":9.78,"counts":0.92},{"scan":"2","angle":10.05,"counts":0.88},{"scan":"2","angle":10.32,"counts":0.9},{"scan":"2","angle":10.6,"counts":0.86},{"scan":"2","angle":10.85,"counts":0.89},{"scan":"2","angle":11.12,"counts":0.85},{"scan":"2","angle":11.4,"counts":0.88},{"scan":"2","angle":11.68,"counts":0.84},{"scan":"2","angle":11.92,"counts":0.87},{"scan":"2","angle":12.2,"counts":0.85},{"scan":"2","angle":12.47,"counts":0.88},{"scan":"2","angle":12.75,"counts":0.85},{"scan":"2","angle":13.0,"counts":0.89},{"scan":"2","angle":13.28,"counts":0.86},{"scan":"2","angle":13.58,"counts":0.9},{"scan":"2","angle":18.55,"counts":0.73},{"scan":"2","angle":18.85,"counts":0.76},{"scan":"2","angle":19.15,"counts":0.72},{"scan":"2","angle":19.45,"counts":0.75},{"scan":"2","angle":19.75,"counts":0.73},{"scan":"2","angle":20.05,"counts":0.75},{"scan":"2","angle":20.37,"counts":0.72},{"scan":"2","angle":20.7,"counts":0.75},{"scan":"2","angle":21.02,"counts":0.72},{"scan":"2","angle":21.35,"counts":0.76},{"scan":"2","angle":21.65,"counts":0.73},{"scan":"2","angle":21.92,"counts":0.77},

{"scan":"1","angle":3.07,"counts":0},{"scan":"1","angle":3.12,"counts":1.76},{"scan":"1","angle":3.18,"counts":1.74},{"scan":"1","angle":3.29,"counts":1.6},{"scan":"1","angle":3.4,"counts":1.5},{"scan":"1","angle":3.55,"counts":1.51},{"scan":"1","angle":3.67,"counts":1.49},{"scan":"1","angle":3.83,"counts":1.46},{"scan":"1","angle":3.99,"counts":1.32},{"scan":"1","angle":4.15,"counts":1.13},{"scan":"1","angle":4.31,"counts":0.88},{"scan":"1","angle":4.47,"counts":0.71},{"scan":"1","angle":4.6,"counts":0.66},{"scan":"1","angle":4.69,"counts":0.64},{"scan":"1","angle":4.91,"counts":0.6},{"scan":"1","angle":5.05,"counts":0.59},{"scan":"1","angle":5.23,"counts":0.58},{"scan":"1","angle":5.4,"counts":0.58},{"scan":"1","angle":5.55,"counts":0.57},{"scan":"1","angle":5.7,"counts":0.55},{"scan":"1","angle":5.88,"counts":0.54},{"scan":"1","angle":6.1,"counts":0.52},{"scan":"1","angle":6.31,"counts":0.5},{"scan":"1","angle":6.5,"counts":0.49},{"scan":"1","angle":6.74,"counts":0.47},{"scan":"1","angle":6.95,"counts":0.46},{"scan":"1","angle":7.17,"counts":0.45},{"scan":"1","angle":7.45,"counts":0.43},{"scan":"1","angle":7.71,"counts":0.42},{"scan":"1","angle":8.0,"counts":0.41},{"scan":"1","angle":8.25,"counts":0.39},{"scan":"1","angle":8.5,"counts":0.39},{"scan":"1","angle":8.78,"counts":0.38},{"scan":"1","angle":9.05,"counts":0.37},{"scan":"1","angle":9.32,"counts":0.38},{"scan":"1","angle":9.55,"counts":0.36},{"scan":"1","angle":9.81,"counts":0.35},{"scan":"1","angle":9.97,"counts":0.39},{"scan":"1","angle":10.05,"counts":0.44},{"scan":"1","angle":10.13,"counts":0.5},{"scan":"1","angle":10.2,"counts":0.42},{"scan":"1","angle":10.29,"counts":0.36},{"scan":"1","angle":10.45,"counts":0.34},{"scan":"1","angle":10.62,"counts":0.33},{"scan":"1","angle":10.9,"counts":0.33},{"scan":"1","angle":11.26,"counts":0.32},{"scan":"1","angle":11.6,"counts":0.3},{"scan":"1","angle":11.91,"counts":0.29},{"scan":"1","angle":12.2,"counts":0.3},{"scan":"1","angle":12.56,"counts":0.29},{"scan":"1","angle":12.9,"counts":0.28},{"scan":"1","angle":13.2,"counts":0.29},{"scan":"1","angle":13.5,"counts":0.3},{"scan":"1","angle":13.85,"counts":0.29},{"scan":"1","angle":14.2,"counts":0.3},{"scan":"1","angle":14.5,"counts":0.31},{"scan":"1","angle":14.8,"counts":0.3},{"scan":"1","angle":15.03,"counts":0.31},{"scan":"1","angle":15.2,"counts":0.32},{"scan":"1","angle":15.36,"counts":0.35},{"scan":"1","angle":15.57,"counts":0.46},{"scan":"1","angle":15.79,"counts":0.6},{"scan":"1","angle":15.95,"counts":0.65},{"scan":"1","angle":16.06,"counts":0.79},{"scan":"1","angle":16.17,"counts":0.57},{"scan":"1","angle":16.27,"counts":0.32},{"scan":"1","angle":16.38,"counts":0.24},{"scan":"1","angle":16.65,"counts":0.26},{"scan":"1","angle":16.97,"counts":0.28},{"scan":"1","angle":17.13,"counts":0.33},{"scan":"1","angle":17.3,"counts":0.42},{"scan":"1","angle":17.51,"counts":0.33},{"scan":"1","angle":17.73,"counts":0.26},{"scan":"1","angle":18.0,"counts":0.25},{"scan":"1","angle":18.16,"counts":0.25},{"scan":"1","angle":18.32,"counts":0.31},{"scan":"1","angle":18.45,"counts":0.26},{"scan":"1","angle":18.7,"counts":0.25},{"scan":"1","angle":19.0,"counts":0.24},{"scan":"1","angle":19.3,"counts":0.25},{"scan":"1","angle":19.6,"counts":0.23},{"scan":"1","angle":19.9,"counts":0.24},{"scan":"1","angle":20.2,"counts":0.23},{"scan":"1","angle":20.5,"counts":0.24},{"scan":"1","angle":20.8,"counts":0.25},{"scan":"1","angle":21.1,"counts":0.24},{"scan":"1","angle":21.4,"counts":0.25},{"scan":"1","angle":21.7,"counts":0.24},{"scan":"1","angle":21.94,"counts":0.26},{"scan":"1","angle":22.15,"counts":0.25},{"scan":"1","angle":22.37,"counts":0.29},{"scan":"1","angle":22.55,"counts":0.24},{"scan":"1","angle":22.8,"counts":0.25},{"scan":"1","angle":23.02,"counts":0.24},{"scan":"1","angle":23.25,"counts":0.25},{"scan":"1","angle":23.45,"counts":0.26},{"scan":"1","angle":23.67,"counts":0.3},{"scan":"1","angle":23.83,"counts":0.6},{"scan":"1","angle":23.99,"counts":1.17},{"scan":"1","angle":24.16,"counts":2.31},{"scan":"1","angle":24.25,"counts":5.0},{"scan":"1","angle":24.36,"counts":5.0},{"scan":"1","angle":24.48,"counts":1.63},{"scan":"1","angle":24.59,"counts":0.48},{"scan":"1","angle":24.75,"counts":0.3},{"scan":"1","angle":24.97,"counts":0.29},{"scan":"1","angle":25.18,"counts":0.34},{"scan":"1","angle":25.4,"counts":0.71},{"scan":"1","angle":25.56,"counts":1.63},{"scan":"1","angle":25.68,"counts":2.54},{"scan":"1","angle":25.78,"counts":1.17},{"scan":"1","angle":25.83,"counts":0.5},{"scan":"1","angle":25.99,"counts":0.64},{"scan":"1","angle":26.1,"counts":0.57},{"scan":"1","angle":26.26,"counts":0.48},{"scan":"1","angle":26.42,"counts":0.34},{"scan":"1","angle":26.59,"counts":0.41},{"scan":"1","angle":26.75,"counts":0.83},{"scan":"1","angle":26.89,"counts":0.99},{"scan":"1","angle":27.02,"counts":1.17},{"scan":"1","angle":27.18,"counts":1.63},{"scan":"1","angle":27.34,"counts":1.97},{"scan":"1","angle":27.43,"counts":2.04},{"scan":"1","angle":27.56,"counts":1.4},{"scan":"1","angle":27.72,"counts":0.89},{"scan":"1","angle":27.88,"counts":0.71},{"scan":"1","angle":28.04,"counts":1.4},{"scan":"1","angle":28.21,"counts":1.81},{"scan":"1","angle":28.37,"counts":1.28},{"scan":"1","angle":28.53,"counts":0.62},{"scan":"1","angle":28.75,"counts":0.5},{"scan":"1","angle":28.91,"counts":0.44},{"scan":"1","angle":29.12,"counts":0.34},{"scan":"1","angle":29.28,"counts":0.48},{"scan":"1","angle":29.5,"counts":0.83},{"scan":"1","angle":29.72,"counts":1.4},{"scan":"1","angle":29.85,"counts":1.86},{"scan":"1","angle":29.99,"counts":1.17},{"scan":"1","angle":30.1,"counts":0.48},{"scan":"1","angle":30.2,"counts":0.36},{"scan":"1","angle":30.37,"counts":0.46},{"scan":"1","angle":30.53,"counts":0.94},{"scan":"1","angle":30.69,"counts":2.09},{"scan":"1","angle":30.85,"counts":5.0},{"scan":"1","angle":31.18,"counts":5.0},{"scan":"1","angle":31.24,"counts":1.74},{"scan":"1","angle":31.35,"counts":2.2},{"scan":"1","angle":31.45,"counts":2.6},{"scan":"1","angle":31.55,"counts":1.6},{"scan":"1","angle":31.62,"counts":1.7},{"scan":"1","angle":31.8,"counts":3.8},{"scan":"1","angle":31.93,"counts":5.0},{"scan":"1","angle":32.05,"counts":5.0},{"scan":"1","angle":32.15,"counts":3.4},{"scan":"1","angle":32.3,"counts":3.3},{"scan":"1","angle":32.45,"counts":5.0},{"scan":"1","angle":32.55,"counts":5.0},{"scan":"1","angle":32.62,"counts":2.5},{"scan":"1","angle":32.7,"counts":1.2},{"scan":"1","angle":32.83,"counts":0.61},{"scan":"1","angle":32.99,"counts":0.35},{"scan":"1","angle":33.15,"counts":0.28},{"scan":"1","angle":33.58,"counts":0.27},{"scan":"1","angle":33.9,"counts":0.31},{"scan":"1","angle":34.12,"counts":0.61},{"scan":"1","angle":34.33,"counts":0.8},{"scan":"1","angle":34.5,"counts":0.79},{"scan":"1","angle":34.71,"counts":1.15},{"scan":"1","angle":34.87,"counts":1.51},{"scan":"1","angle":34.98,"counts":1.72},{"scan":"1","angle":35.09,"counts":1.33},{"scan":"1","angle":35.17,"counts":0.92},{"scan":"1","angle":35.25,"counts":1.15},{"scan":"1","angle":35.35,"counts":1.33},{"scan":"1","angle":35.46,"counts":0.99},{"scan":"1","angle":35.57,"counts":1.15},{"scan":"1","angle":35.68,"counts":1.26},{"scan":"1","angle":35.79,"counts":1.06},{"scan":"1","angle":35.95,"counts":0.47},{"scan":"1","angle":36.11,"counts":0.72},{"scan":"1","angle":36.27,"counts":0.61},{"scan":"1","angle":36.48,"counts":0.4},{"scan":"1","angle":36.81,"counts":0.27},{"scan":"1","angle":37.08,"counts":0.29},{"scan":"1","angle":37.29,"counts":0.49},{"scan":"1","angle":37.45,"counts":0.65},{"scan":"1","angle":37.67,"counts":0.52},{"scan":"1","angle":37.88,"counts":0.29},{"scan":"1","angle":38.15,"counts":0.24},{"scan":"1","angle":38.42,"counts":0.32},{"scan":"1","angle":38.63,"counts":0.25},{"scan":"1","angle":38.85,"counts":0.24},{"scan":"1","angle":39.17,"counts":0.29},{"scan":"1","angle":39.39,"counts":0.58},{"scan":"1","angle":39.55,"counts":0.47},{"scan":"1","angle":39.71,"counts":0.58},{"scan":"1","angle":39.98,"counts":0.69},{"scan":"1","angle":40.14,"counts":0.61},{"scan":"1","angle":40.3,"counts":0.54},{"scan":"1","angle":40.52,"counts":0.88},{"scan":"1","angle":40.7,"counts":1.31},{"scan":"1","angle":40.84,"counts":0.97},{"scan":"1","angle":41.05,"counts":0.83},{"scan":"1","angle":41.22,"counts":0.8},{"scan":"1","angle":41.43,"counts":0.67},{"scan":"1","angle":41.65,"counts":0.46},{"scan":"1","angle":41.86,"counts":0.34},{"scan":"1","angle":42.08,"counts":0.32},{"scan":"1","angle":42.24,"counts":0.41},{"scan":"1","angle":42.4,"counts":1.01},{"scan":"1","angle":42.52,"counts":2.5},{"scan":"1","angle":42.6,"counts":3.5},{"scan":"1","angle":42.68,"counts":2.0},{"scan":"1","angle":42.77,"counts":0.67},{"scan":"1","angle":42.94,"counts":0.55},{"scan":"1","angle":43.15,"counts":0.46},{"scan":"1","angle":43.31,"counts":0.55},{"scan":"1","angle":43.47,"counts":0.43},{"scan":"1","angle":43.69,"counts":0.45},{"scan":"1","angle":43.9,"counts":0.32},{"scan":"1","angle":44.23,"counts":0.24},{"scan":"1","angle":44.55,"counts":0.24},{"scan":"1","angle":44.76,"counts":0.36},{"scan":"1","angle":44.92,"counts":0.6},{"scan":"1","angle":45.09,"counts":0.55},{"scan":"1","angle":45.3,"counts":0.34},{"scan":"1","angle":45.46,"counts":0.24},{"scan":"1","angle":45.73,"counts":0.32},{"scan":"1","angle":45.89,"counts":0.84},{"scan":"1","angle":46.02,"counts":2.2},{"scan":"1","angle":46.12,"counts":3.8},{"scan":"1","angle":46.2,"counts":2.0},{"scan":"1","angle":46.27,"counts":0.6},{"scan":"1","angle":46.38,"counts":0.27},{"scan":"1","angle":46.59,"counts":0.32},{"scan":"1","angle":46.81,"counts":0.84},{"scan":"1","angle":46.92,"counts":1.29},{"scan":"1","angle":47.02,"counts":1.01},{"scan":"1","angle":47.18,"counts":0.32},{"scan":"1","angle":47.34,"counts":0.25},{"scan":"1","angle":47.67,"counts":0.25},{"scan":"1","angle":47.88,"counts":0.36},{"scan":"1","angle":48.04,"counts":0.5},{"scan":"1","angle":48.22,"counts":0.32},{"scan":"1","angle":48.42,"counts":0.58},{"scan":"1","angle":48.63,"counts":1.22},{"scan":"1","angle":48.85,"counts":0.84},{"scan":"1","angle":49.06,"counts":0.37},{"scan":"1","angle":49.28,"counts":0.5},{"scan":"1","angle":49.44,"counts":1.18},{"scan":"1","angle":49.58,"counts":2.5},{"scan":"1","angle":49.7,"counts":1.5},{"scan":"1","angle":49.78,"counts":0.6},
{"scan":"1","angle":4.8,"counts":0.62},{"scan":"1","angle":5.14,"counts":0.57},{"scan":"1","angle":5.32,"counts":0.59},{"scan":"1","angle":5.48,"counts":0.56},{"scan":"1","angle":5.62,"counts":0.58},{"scan":"1","angle":5.8,"counts":0.53},{"scan":"1","angle":6.0,"counts":0.55},{"scan":"1","angle":6.2,"counts":0.5},{"scan":"1","angle":6.4,"counts":0.52},{"scan":"1","angle":6.62,"counts":0.46},{"scan":"1","angle":6.85,"counts":0.48},{"scan":"1","angle":7.05,"counts":0.44},{"scan":"1","angle":7.3,"counts":0.46},{"scan":"1","angle":7.58,"counts":0.41},{"scan":"1","angle":7.85,"counts":0.43},{"scan":"1","angle":8.12,"counts":0.38},{"scan":"1","angle":8.38,"counts":0.41},{"scan":"1","angle":8.65,"counts":0.37},{"scan":"1","angle":8.9,"counts":0.39},{"scan":"1","angle":9.18,"counts":0.35},{"scan":"1","angle":9.45,"counts":0.38},{"scan":"1","angle":9.68,"counts":0.34},{"scan":"1","angle":10.55,"counts":0.35},{"scan":"1","angle":10.75,"counts":0.31},{"scan":"1","angle":11.08,"counts":0.34},{"scan":"1","angle":11.43,"counts":0.3},{"scan":"1","angle":11.75,"counts":0.32},{"scan":"1","angle":12.05,"counts":0.28},{"scan":"1","angle":12.38,"counts":0.31},{"scan":"1","angle":12.72,"counts":0.27},{"scan":"1","angle":13.05,"counts":0.31},{"scan":"1","angle":13.35,"counts":0.28},{"scan":"1","angle":13.68,"counts":0.31},{"scan":"1","angle":14.02,"counts":0.28},{"scan":"1","angle":14.35,"counts":0.32},{"scan":"1","angle":14.65,"counts":0.29},{"scan":"1","angle":14.92,"counts":0.32},{"scan":"1","angle":18.58,"counts":0.23},{"scan":"1","angle":18.85,"counts":0.26},{"scan":"1","angle":19.15,"counts":0.22},{"scan":"1","angle":19.45,"counts":0.26},{"scan":"1","angle":19.75,"counts":0.22},{"scan":"1","angle":20.05,"counts":0.25},{"scan":"1","angle":20.35,"counts":0.22},{"scan":"1","angle":20.65,"counts":0.26},{"scan":"1","angle":20.95,"counts":0.23},{"scan":"1","angle":21.25,"counts":0.26},{"scan":"1","angle":21.55,"counts":0.22},{"scan":"1","angle":21.82,"counts":0.25},{"scan":"1","angle":22.05,"counts":0.23},{"scan":"1","angle":22.68,"counts":0.26},{"scan":"1","angle":22.92,"counts":0.23},{"scan":"1","angle":23.13,"counts":0.26},{"scan":"1","angle":23.35,"counts":0.24},{"scan":"1","angle":23.56,"counts":0.27}
],
"peaklabels": [
{"label":"4","angle":6.0,"counts":2.48},{"label":"3","angle":5.77,"counts":1.77},{"label":"2","angle":6.08,"counts":1.27},{"label":"1","angle":5.77,"counts":0.66},{"label":"B","angle":10.15,"counts":0.6},{"label":"K","angle":14.22,"counts":2.36},{"label":"F","angle":15.99,"counts":2.09},{"label":"F","angle":17.63,"counts":2.0},{"label":"K","angle":23.2,"counts":3.08},{"label":"A","angle":25.59,"counts":2.78},{"label":"A","angle":27.37,"counts":2.84},{"label":"A","angle":28.16,"counts":2.7},{"label":"M","angle":34.92,"counts":2.4},{"label":"M","angle":36.05,"counts":2.5},{"label":"H","angle":38.58,"counts":2.09}
],
"panel": [{"label":"A","angle":2.87,"counts":-0.556}]
},
"layer": [
{"data": {"name": "traces"},
 "mark": {"type": "line", "strokeWidth": 2, "blend": "multiply", "strokeJoin": "round"},
 "encoding": {
  "x": {"field": "angle", "type": "quantitative", "title": "Angle (deg)",
        "scale": {"domain": [3.05, 49.85], "nice": false, "zero": false},
        "axis": {"values": [9, 18, 27, 36, 45], "format": ".2f", "labelFont": "DejaVu Sans Mono", "labelFontSize": 32, "labelColor": "#8fb2e8", "labelPadding": 24, "tickSize": 22, "tickColor": "#6f80b8", "tickWidth": 1.5, "domainColor": "#9ed8ea", "domainWidth": 2, "grid": false, "labelFlush": false, "titleFont": "DejaVu Sans Mono", "titleFontSize": 33, "titleFontWeight": "normal", "titleColor": "#8fb2e8", "titleX": 1462, "titleY": 134, "titleAlign": "right", "titleBaseline": "middle", "titleAngle": 0}},
  "y": {"field": "counts", "type": "quantitative", "title": "Counts X10** 3",
        "scale": {"domain": [0, 5], "nice": false},
        "axis": {"values": [0, 1, 2, 3, 4, 5], "format": "d", "labelFont": "DejaVu Sans Mono", "labelFontSize": 32, "labelColor": "#8fb2e8", "labelPadding": 14, "tickSize": 18, "tickColor": "#7078c0", "tickWidth": 1.5, "domainColor": "#9ed8ea", "domainWidth": 2, "grid": false, "labelFlush": false, "titleFont": "DejaVu Sans Mono", "titleFontSize": 35, "titleFontWeight": "normal", "titleColor": "#8fb2e8", "titleX": -153, "titleY": 19, "titleAlign": "right", "titleBaseline": "middle", "titleAngle": -90}},
  "color": {"field": "scan", "type": "nominal", "scale": {"domain": ["1", "2", "3", "4"], "range": ["#55a2e4", "#f04646", "#3caa78", "#a06ee6"]}, "legend": null}
 }},
{"data": {"name": "peaklabels"},
 "mark": {"type": "text", "font": "Liberation Sans", "fontWeight": "bold", "fontSize": 32, "color": "#1c1c1c", "baseline": "middle", "align": "center"},
 "encoding": {
  "x": {"field": "angle", "type": "quantitative", "title": "Angle (deg)"},
  "y": {"field": "counts", "type": "quantitative", "title": "Counts X10** 3"},
  "text": {"field": "label"}
 }},
{"data": {"name": "panel"},
 "mark": {"type": "text", "font": "Liberation Sans", "fontWeight": "normal", "fontSize": 42, "color": "#1c1c1c", "baseline": "middle", "align": "center"},
 "encoding": {
  "x": {"field": "angle", "type": "quantitative", "title": "Angle (deg)"},
  "y": {"field": "counts", "type": "quantitative", "title": "Counts X10** 3"},
  "text": {"field": "label"}
 }}
]
}
